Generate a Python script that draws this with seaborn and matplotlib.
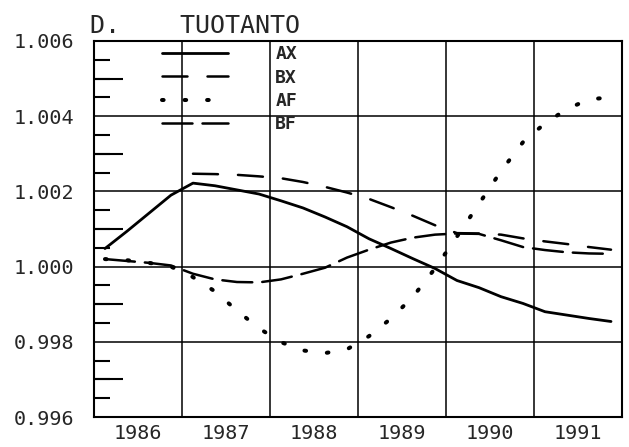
import pandas as pd
import matplotlib
matplotlib.use('Agg')
import matplotlib.pyplot as plt
from matplotlib.ticker import MultipleLocator, FixedLocator, NullFormatter
import seaborn as sns

# quarterly series, 1986Q1 - 1991Q4
quarters_all = pd.period_range('1986Q1', '1991Q4', freq='Q')
quarters_bx = pd.period_range('1987Q1', '1991Q4', freq='Q')

ax_values = [1.00048, 1.00094, 1.00142, 1.00190, 1.00222, 1.00215, 1.00204, 1.00193,
             1.00175, 1.00156, 1.00132, 1.00106, 1.00074, 1.00048, 1.00021, 0.99995,
             0.99963, 0.99944, 0.99920, 0.99902, 0.99880, 0.99871, 0.99862, 0.99854]
bx_values = [1.00247, 1.00246, 1.00244, 1.00240, 1.00235, 1.00225, 1.00212, 1.00197,
             1.00180, 1.00158, 1.00135, 1.00110, 1.00089, 1.00088, 1.00085, 1.00075,
             1.00067, 1.00060, 1.00052, 1.00045]
af_values = [1.00020, 1.00017, 1.00010, 1.00000, 0.99972, 0.99934, 0.99883, 0.99836,
             0.99799, 0.99777, 0.99770, 0.99780, 0.99815, 0.99862, 0.99920, 0.99995,
             1.00080, 1.00167, 1.00254, 1.00331, 1.00381, 1.00419, 1.00445, 1.00450]
bf_values = [1.00020, 1.00015, 1.00010, 1.00003, 0.99981, 0.99966, 0.99959, 0.99958,
             0.99966, 0.99981, 0.99997, 1.00024, 1.00045, 1.00064, 1.00077, 1.00085,
             1.00088, 1.00087, 1.00070, 1.00052, 1.00044, 1.00038, 1.00035, 1.00034]

series_order = ['AX', 'BX', 'AF', 'BF']
year_labels = ['1986', '1987', '1988', '1989', '1990', '1991']
title_text = 'D.    TUOTANTO'


def to_frame(periods, values, name):
    t = [p.year + (p.quarter - 0.5) / 4 for p in periods]
    return pd.DataFrame({'t': t, 'value': values, 'series': name})


df = pd.concat([
    to_frame(quarters_all, ax_values, 'AX'),
    to_frame(quarters_bx, bx_values, 'BX'),
    to_frame(quarters_all, af_values, 'AF'),
    to_frame(quarters_all, bf_values, 'BF'),
], ignore_index=True)

sns.set_style('white')
plt.rcParams['font.family'] = ['DejaVu Sans Mono', 'DejaVu Sans']
plt.rcParams['lines.dash_capstyle'] = 'round'
plt.rcParams['lines.solid_capstyle'] = 'round'

fig = plt.figure(figsize=(6.29, 4.47), dpi=100)
ax = fig.add_axes([0.1494, 0.0671, 0.8395, 0.8412])

sns.lineplot(data=df, x='t', y='value', style='series', size='series',
             style_order=series_order, size_order=series_order,
             dashes={'AX': '', 'BX': (10, 8), 'AF': (0.4, 5.2), 'BF': (12, 4)},
             sizes={'AX': 2.0, 'BX': 1.8, 'AF': 2.9, 'BF': 1.8},
             color='black', ax=ax)

years = [int(y) for y in year_labels]
ax.set_xlim(years[0], years[-1] + 1)
ax.set_ylim(0.996, 1.006)

# year boundaries carry the grid, labels sit in the middle of each year
ax.xaxis.set_major_locator(FixedLocator(years + [years[-1] + 1]))
ax.xaxis.set_major_formatter(NullFormatter())
ax.xaxis.set_minor_locator(FixedLocator([y + 0.5 for y in years]))
ax.set_xticklabels(year_labels, minor=True)
ax.tick_params(axis='x', which='both', length=0, labelsize=14.5, pad=5)

ax.yaxis.set_major_locator(MultipleLocator(0.002))
ax.yaxis.set_major_formatter(lambda v, pos: f'{v:.3f}')
ax.yaxis.set_minor_locator(MultipleLocator(0.0005))
ax.tick_params(axis='y', which='major', length=0, labelsize=14.5, pad=14)
ax.tick_params(axis='y', which='minor', left=True, direction='in', length=11.5,
               width=1.5, color='black')

sec = ax.secondary_yaxis('left')
sec.set_yticks([0.997, 0.999, 1.001, 1.003, 1.005])
sec.tick_params(left=True, direction='in', length=21, width=1.5, labelleft=False,
                color='black')
sec.spines['left'].set_visible(False)

ax.grid(True, which='major', color='black', linewidth=1.1)
ax.set_axisbelow(True)
for s in ax.spines.values():
    s.set_visible(True)
    s.set_color('black')
    s.set_linewidth(1.5)

ax.set_xlabel('')
ax.set_ylabel('')

sns.move_legend(ax, loc='upper left', bbox_to_anchor=(0.129, 0.989), title=None,
                frameon=False, prop={'size': 13, 'weight': 'bold'},
                handlelength=3.67, handletextpad=2.6,
                labelspacing=0.3, borderpad=0, borderaxespad=0)

fig.text(90 / 629, 1 - 33 / 447, title_text, fontsize=18, va='baseline', ha='left')

fig.savefig('out.png', dpi=100)
